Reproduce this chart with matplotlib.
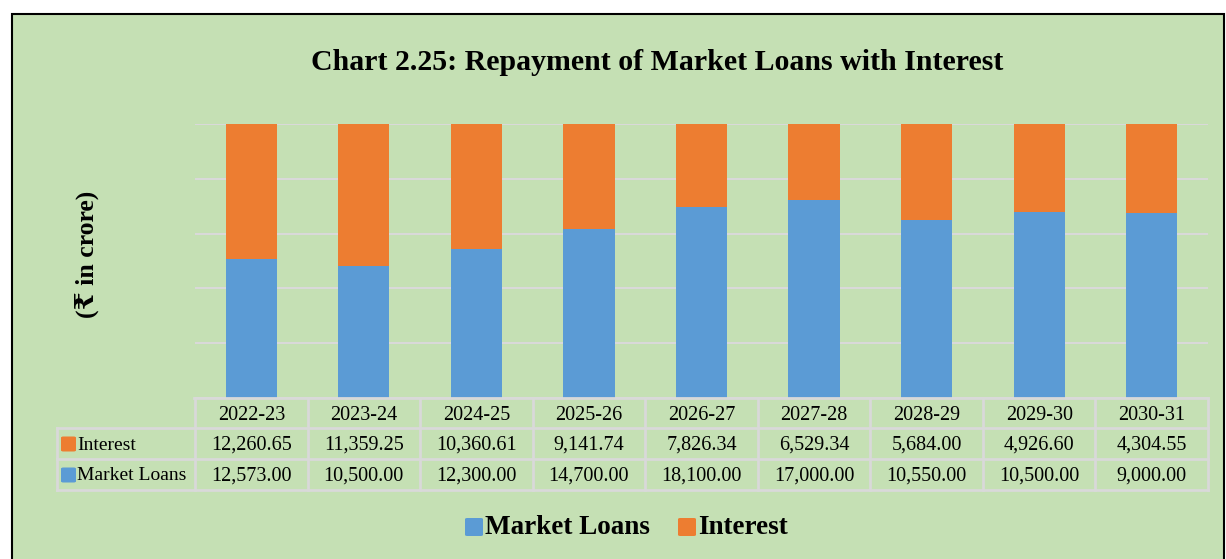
import matplotlib
matplotlib.use("Agg")
import matplotlib.pyplot as plt
from matplotlib.patches import Rectangle, FancyBboxPatch
from matplotlib.lines import Line2D
import matplotlib.transforms as mtransforms

years = ["2022-23", "2023-24", "2024-25", "2025-26", "2026-27", "2027-28", "2028-29", "2029-30", "2030-31"]
interest = [12260.65, 11359.25, 10360.61, 9141.74, 7826.34, 6529.34, 5684.00, 4926.60, 4304.55]
market_loans = [12573.00, 10500.00, 12300.00, 14700.00, 18100.00, 17000.00, 10550.00, 10500.00, 9000.00]

BLUE = "#5B9BD5"
ORANGE = "#ED7D31"
BG = "#C5E0B4"
GRID = "#D9D9D9"
W, H = 1226, 559
SERIF = ["Liberation Serif", "DejaVu Serif", "DejaVu Sans"]

fig = plt.figure(figsize=(W / 100, H / 100), dpi=100)
fig.patch.set_facecolor("white")

def fx(px):
    return px / W

def fy(py):
    return 1 - py / H

# green background with border
fig.patches.append(Rectangle((fx(12), fy(562)), fx(1224) - fx(12), fy(14) - fy(562),
                             transform=fig.transFigure, facecolor=BG, edgecolor="black",
                             linewidth=1.5, zorder=-10))

ax = fig.add_axes([fx(195), fy(398), fx(1208) - fx(195), fy(124) - fy(398)])
ax.set_zorder(1)
ax.set_facecolor("none")
n = len(years)
xs = list(range(n))
totals = [a + b for a, b in zip(interest, market_loans)]
loan_pct = [m / t * 100 for m, t in zip(market_loans, totals)]
int_pct = [i / t * 100 for i, t in zip(interest, totals)]
bw = 0.455
ax.bar(xs, loan_pct, width=bw, color=BLUE, zorder=3)
ax.bar(xs, int_pct, bottom=loan_pct, width=bw, color=ORANGE, zorder=3)
ax.set_xlim(-0.5, n - 0.5)
ax.set_ylim(0, 100)
ax.set_yticks([0, 20, 40, 60, 80, 100])
ax.yaxis.grid(True, color=GRID, linewidth=1.5, zorder=0)
ax.set_axisbelow(True)
ax.tick_params(left=False, bottom=False, labelleft=False, labelbottom=False)
for s in ax.spines.values():
    s.set_visible(False)

# title
fig.text(fx(657), fy(62), "Chart 2.25: Repayment of Market Loans with Interest",
         ha="center", va="center", fontsize=21.5, fontweight="bold", family=SERIF)
# y label
fig.text(fx(87), fy(254), "(₹ in crore)", ha="center", va="center", rotation=90,
         fontsize=18.5, fontweight="bold", family=SERIF)

# data table
row_tops = [398, 428, 459, 490]
blend = mtransforms.blended_transform_factory(ax.transData, fig.transFigure)
lkw = dict(color=GRID, linewidth=2, transform=fig.transFigure, zorder=2)
fig.add_artist(Line2D([fx(194), fx(1208)], [fy(398), fy(398)], **lkw))
for yy in row_tops[1:]:
    fig.add_artist(Line2D([fx(57), fx(1208)], [fy(yy), fy(yy)], **lkw))
fig.add_artist(Line2D([fx(57), fx(57)], [fy(428), fy(490)], **lkw))
for k in range(n + 1):
    fig.add_artist(Line2D([k - 0.5, k - 0.5], [fy(398), fy(490)], color=GRID, linewidth=2,
                          transform=blend, zorder=2))

tkw = dict(ha="center", va="center", fontsize=14.5, family=SERIF, transform=blend)
for k, yr in enumerate(years):
    fig.text(k, fy(415), yr, **tkw)
    fig.text(k, fy(445), f"{interest[k]:,.2f}", **tkw)
    fig.text(k, fy(476), f"{market_loans[k]:,.2f}", **tkw)

for yy, col, lab in [(444, ORANGE, "Interest"), (475, BLUE, "Market Loans")]:
    fig.patches.append(FancyBboxPatch((fx(61), fy(yy + 7.5)), fx(15), fy(yy - 7.5) - fy(yy + 7.5),
                                      boxstyle="round,pad=0,rounding_size=0.002",
                                      transform=fig.transFigure, facecolor=col, edgecolor="none", zorder=3))
    fig.text(fx(77), fy(yy + 1), lab, ha="left", va="center", fontsize=14, family=SERIF)

# bottom legend
for x0, col, lab in [(465, BLUE, "Market Loans"), (678, ORANGE, "Interest")]:
    fig.patches.append(FancyBboxPatch((fx(x0), fy(536)), fx(18), fy(518) - fy(536),
                                      boxstyle="round,pad=0,rounding_size=0.002",
                                      transform=fig.transFigure, facecolor=col, edgecolor="none", zorder=3))
    fig.text(fx(x0 + 20), fy(528), lab, ha="left", va="center", fontsize=19.5,
             fontweight="bold", family=SERIF)

fig.savefig("out.png", dpi=100, facecolor=fig.get_facecolor())
